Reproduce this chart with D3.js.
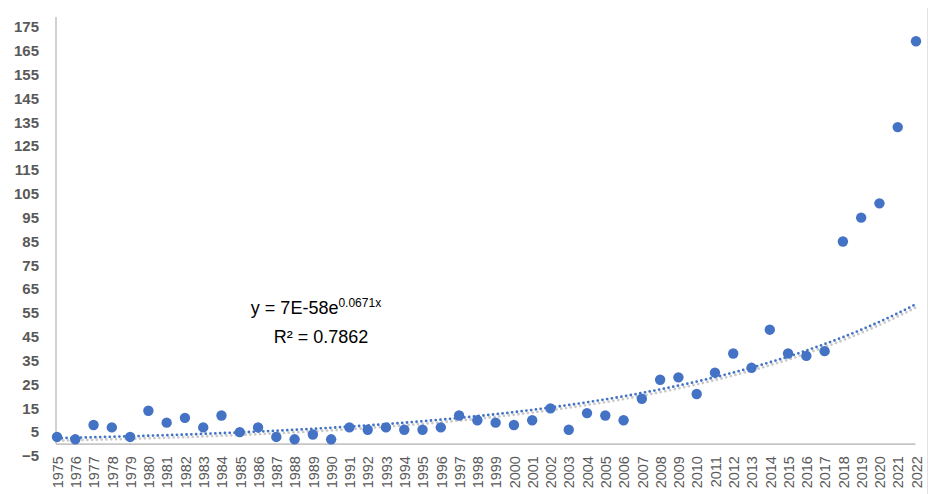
<!DOCTYPE html>
<html>
<head>
<meta charset="utf-8">
<script src="https://cdn.jsdelivr.net/npm/d3@7"></script>
<style>
  body { margin: 0; background: #fff; }
  svg { display: block; }
</style>
</head>
<body>
<div id="chart"></div>
<script>
// data
var years = [1975, 1976, 1977, 1978, 1979, 1980, 1981, 1982, 1983, 1984,
    1985, 1986, 1987, 1988, 1989, 1990, 1991, 1992, 1993, 1994,
    1995, 1996, 1997, 1998, 1999, 2000, 2001, 2002, 2003, 2004,
    2005, 2006, 2007, 2008, 2009, 2010, 2011, 2012, 2013, 2014,
    2015, 2016, 2017, 2018, 2019, 2020, 2021, 2022];
var counts = [3, 2, 8, 7, 3, 14, 9, 11, 7, 12,
    5, 7, 3, 2, 4, 2, 7, 6, 7, 6,
    6, 7, 12, 10, 9, 8, 10, 15, 6, 13,
    12, 10, 19, 27, 28, 21, 30, 38, 32, 48,
    38, 37, 39, 85, 95, 101, 133, 169];
var yTicks = [-5, 5, 15, 25, 35, 45, 55, 65, 75, 85, 95, 105, 115, 125, 135, 145, 155, 165, 175];

// exponential trendline as printed on the chart
var trendA = 7e-58;
var trendB = 0.0671;
var eqText = "y = 7E-58e";
var eqPower = "0.0671x";
var r2Text = "R² = 0.7862";

var svgWidth = 937;
var svgHeight = 494;
var blue = "#4472C4";
var font = "'Liberation Sans', Arial, sans-serif";

var svg = d3.select("#chart")
    .append("svg")
    .attr("width", svgWidth)
    .attr("height", svgHeight);

var xScale = d3.scalePoint()
    .domain(years)
    .range([57, 916]);

var yScale = d3.scaleLinear()
    .domain([-5, 175])
    .range([456, 27]);

// outer right border of the chart area
svg.append("line")
    .attr("x1", 927.5).attr("x2", 927.5)
    .attr("y1", 8).attr("y2", svgHeight)
    .attr("stroke", "#e3e3e3")
    .attr("stroke-width", 1);

// y axis
var leftAxis = d3.axisLeft(yScale)
    .tickValues(yTicks)
    .tickSize(0)
    .tickPadding(17);

var yAxisG = svg.append("g")
    .attr("transform", "translate(56, 0)")
    .call(leftAxis);
yAxisG.select(".domain").remove();
yAxisG.selectAll("text")
    .style("font-family", font)
    .style("font-size", "15px")
    .style("font-weight", "bold")
    .attr("fill", "#595959");

svg.append("line")
    .attr("x1", 56).attr("x2", 56)
    .attr("y1", 17).attr("y2", yScale(0))
    .attr("stroke", "#c6c6c6")
    .attr("stroke-width", 1.6);

// x axis along zero
var bottomAxis = d3.axisBottom(xScale)
    .tickSize(0);

var xAxisG = svg.append("g")
    .attr("transform", `translate(0, ${yScale(0)})`)
    .call(bottomAxis);
xAxisG.select(".domain").remove();
xAxisG.selectAll("text")
    .attr("transform", "rotate(-90)")
    .attr("x", -12)
    .attr("y", 0)
    .attr("dy", "0.36em")
    .style("text-anchor", "end")
    .style("font-family", font)
    .style("font-size", "14.5px")
    .attr("fill", "#595959");

svg.append("line")
    .attr("x1", 56).attr("x2", 915.5)
    .attr("y1", yScale(0)).attr("y2", yScale(0))
    .attr("stroke", "#c6c6c6")
    .attr("stroke-width", 1.6);

// trendline (gray shadow then blue dots)
var trendData = years.map(function (yr) {
    return { year: yr, value: trendA * Math.exp(trendB * yr) };
});

var trendLine = d3.line()
    .x(d => xScale(d.year))
    .y(d => yScale(d.value))
    .curve(d3.curveMonotoneX);

svg.append("path")
    .datum(trendData)
    .attr("d", trendLine)
    .attr("transform", "translate(1.5, 2.5)")
    .attr("fill", "none")
    .attr("stroke", "#c9c9c9")
    .attr("stroke-width", 2.8)
    .attr("stroke-linecap", "round")
    .attr("stroke-dasharray", "0 4.8");

svg.append("path")
    .datum(trendData)
    .attr("d", trendLine)
    .attr("fill", "none")
    .attr("stroke", blue)
    .attr("stroke-width", 2.8)
    .attr("stroke-linecap", "round")
    .attr("stroke-dasharray", "0 4.8");

// scatter points
svg.selectAll("circle.pt")
    .data(years)
    .enter()
    .append("circle")
    .attr("class", "pt")
    .attr("cx", d => xScale(d))
    .attr("cy", (d, i) => yScale(counts[i]))
    .attr("r", 5.2)
    .attr("fill", blue);

// equation label
var eq = svg.append("text")
    .attr("x", 316)
    .attr("y", 314)
    .attr("text-anchor", "middle")
    .style("font-family", font)
    .style("font-size", "18px")
    .attr("fill", "#000");
eq.append("tspan").text(eqText);
eq.append("tspan")
    .attr("dy", -7)
    .style("font-size", "12px")
    .text(eqPower);

svg.append("text")
    .attr("x", 321)
    .attr("y", 343)
    .attr("text-anchor", "middle")
    .style("font-family", font)
    .style("font-size", "18px")
    .attr("fill", "#000")
    .text(r2Text);
</script>
</body>
</html>
